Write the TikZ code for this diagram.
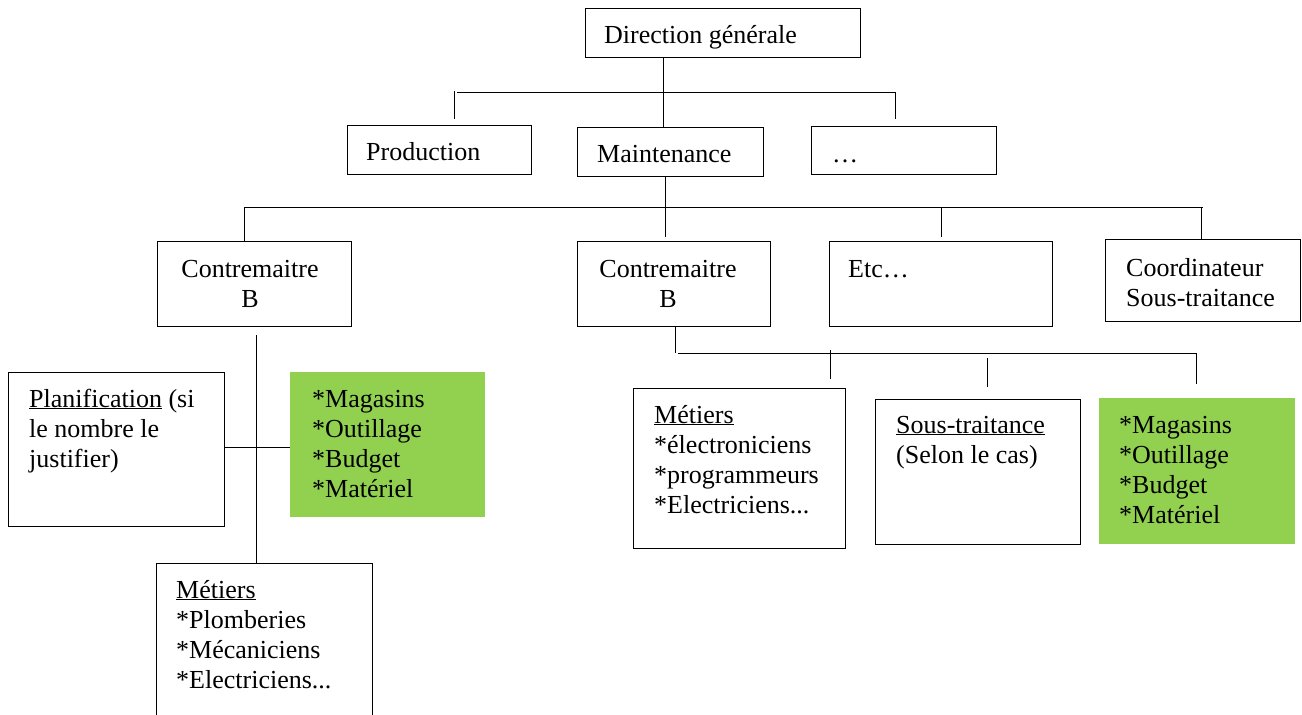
\documentclass[tikz,border=0pt]{standalone}
\usepackage{fontspec}
\setmainfont{Liberation Serif}
\definecolor{boxgreen}{HTML}{92D050}
\newcommand{\mkbox}[6]{\node[#1, anchor=north west, minimum width={#5-#3}, minimum height={#6-#4}, inner sep=0pt] (#2) at (#3,#4) {};}
\newcommand{\nl}{\\{}}
\begin{document}
\begin{tikzpicture}[x=1pt,y=-1pt,
  box/.style={draw=black, line width=1.1pt},
  gbox/.style={fill=boxgreen, draw=none},
  txt/.style={anchor=base west, inner sep=0pt, font=\fontsize{26}{30}\selectfont},
  link/.style={draw=black, line width=1pt}]
\useasboundingbox (0,0) rectangle (1302,715);
\clip (0,0) rectangle (1302,715);
% boxes
\mkbox{box}{dg}{585}{8}{860}{57}
\mkbox{box}{prod}{347}{125}{531}{174}
\mkbox{box}{maint}{577}{127}{763}{176}
\mkbox{box}{dots}{811}{126}{996}{174}
\mkbox{box}{cb1}{157}{241}{351}{326}
\mkbox{box}{cb2}{577}{241}{770}{326}
\mkbox{box}{etc}{829}{241}{1052}{326}
\mkbox{box}{coord}{1105}{239}{1300}{321}
\mkbox{box}{plan}{8}{372}{224}{526}
\mkbox{gbox}{g1}{290}{372}{485}{517}
\mkbox{box}{met1}{156}{563}{372}{730}
\mkbox{box}{met2}{633}{388}{845}{548}
\mkbox{box}{sous}{875}{399}{1080}{544}
\mkbox{gbox}{g2}{1099}{398}{1295}{544}
% texts
\node[txt] (tdg) at (604,43) {Direction générale};
\node[txt] (tprod) at (366,160) {Production};
\node[txt] (tmaint) at (597,162) {Maintenance};
\node[txt] (tdots) at (832,162) {…};
\node[txt, anchor=base] (tcb1) at (250,277) {\begin{tabular}[t]{@{}c@{}}Contremaitre\nl B\end{tabular}};
\node[txt, anchor=base] (tcb2) at (668,277) {\begin{tabular}[t]{@{}c@{}}Contremaitre\nl B\end{tabular}};
\node[txt] (tetc) at (848,277) {Etc…};
\node[txt] (tcoord) at (1126,276) {\begin{tabular}[t]{@{}l@{}}Coordinateur\nl Sous-traitance\end{tabular}};
\node[txt] (tplan) at (29,407) {\begin{tabular}[t]{@{}l@{}}\underline{Planification} (si\nl le nombre le\nl justifier)\end{tabular}};
\node[txt] (tg1) at (312,407) {\begin{tabular}[t]{@{}l@{}}*Magasins\nl *Outillage\nl *Budget\nl *Matériel\end{tabular}};
\node[txt] (tmet1) at (176,598) {\begin{tabular}[t]{@{}l@{}}\underline{Métiers}\nl *Plomberies\nl *Mécaniciens\nl *Electriciens...\end{tabular}};
\node[txt] (tmet2) at (654,423) {\begin{tabular}[t]{@{}l@{}}\underline{Métiers}\nl *électroniciens\nl *programmeurs\nl *Electriciens...\end{tabular}};
\node[txt] (tsous) at (896,433) {\begin{tabular}[t]{@{}l@{}}\underline{Sous-traitance}\nl (Selon le cas)\end{tabular}};
\node[txt] (tg2) at (1119,433) {\begin{tabular}[t]{@{}l@{}}*Magasins\nl *Outillage\nl *Budget\nl *Matériel\end{tabular}};
% connectors
\coordinate (j0) at (663,92);
\draw[link] (dg.south -| j0) -- (maint.north -| j0);
\coordinate (b1l) at (457,92);
\coordinate (b1r) at (895,92);
\draw[link] (b1l) -- (b1r);
\coordinate (t1) at (454,91);
\draw[link] (t1) -- ++(0,28);
\draw[link] (b1r) -- ++(0,27);
\coordinate (m2) at (665,207);
\draw[link] (maint.south -| m2) -- (m2);
\coordinate (b2l) at (244,207);
\coordinate (b2r) at (1203,207);
\draw[link] (b2l) -- (b2r);
\draw[link] (b2l) -- (cb1.north -| b2l);
\draw[link] (m2) -- ++(0,30);
\coordinate (t3) at (941,207);
\draw[link] (t3) -- ++(0,30);
\coordinate (t4) at (1201,207);
\draw[link] (t4) -- (coord.north -| t4);
\coordinate (c1) at (256,335);
\draw[link] (c1) -- (met1.north -| c1);
\coordinate (h1) at (224,447);
\draw[link] (plan.east |- h1) -- (g1.west |- h1);
\coordinate (c2) at (675,353);
\draw[link] (cb2.south -| c2) -- (c2);
\coordinate (b3l) at (678,353);
\coordinate (b3r) at (1197,353);
\draw[link] (b3l) -- (b3r);
\coordinate (t5) at (830,350);
\draw[link] (t5) -- ++(0,29);
\coordinate (t6) at (987,358);
\draw[link] (t6) -- ++(0,29);
\coordinate (t7) at (1196,353);
\draw[link] (t7) -- ++(0,31);
\end{tikzpicture}
\end{document}
